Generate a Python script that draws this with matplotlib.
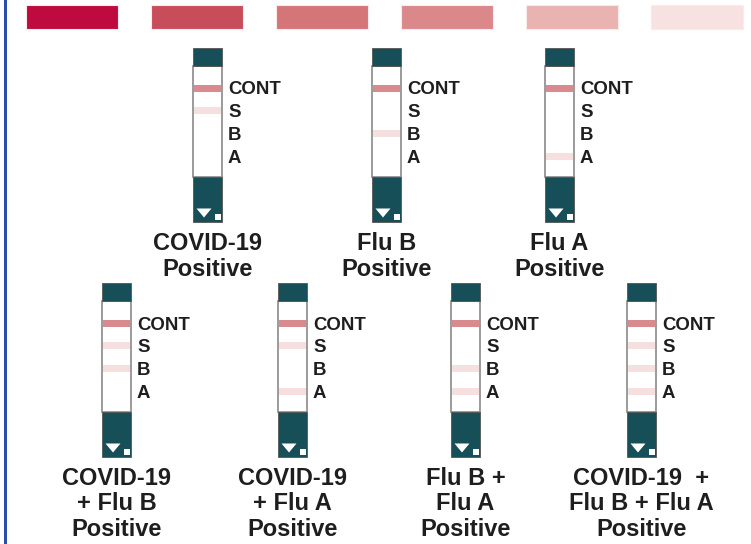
import matplotlib
matplotlib.use("Agg")
import matplotlib.pyplot as plt
from matplotlib.patches import Rectangle, Polygon

# ---- data ----
swatch_colors = ["#be0a3f", "#c84d5a", "#d47577", "#da888a", "#e8b3b1", "#f7e2e1"]
band_labels = ["CONT", "S", "B", "A"]
titles = [
    ["COVID-19", "Positive"],
    ["Flu B", "Positive"],
    ["Flu A", "Positive"],
    ["COVID-19", "+ Flu B", "Positive"],
    ["COVID-19", "+ Flu A", "Positive"],
    ["Flu B +", "Flu A", "Positive"],
    ["COVID-19  +", "Flu B + Flu A", "Positive"],
]
# which bands show a line (CONT, S, B, A)
bands_present = [
    [1, 1, 0, 0],
    [1, 0, 1, 0],
    [1, 0, 0, 1],
    [1, 1, 1, 0],
    [1, 1, 0, 1],
    [1, 0, 1, 1],
    [1, 1, 1, 1],
]

# ---- layout ----
W, H = 751, 544
strip_left = [193, 372, 545, 102, 278, 451, 627]
row_of = [0, 0, 0, 1, 1, 1, 1]
row_top = [48, 283]
strip_w = 29
cap_top_h = 18
white_h = 111
cap_bot_h = 45
band_first = 22   # offset of CONT band centre below white top
band_step = 22.7
band_h = 7
title_base = [250, 485]
title_step = 25.5

TEAL = "#174f58"
CONT_COL = "#d98a8c"
LIGHT_COL = "#f6dfdf"
FONT = ["Liberation Sans", "DejaVu Sans"]
TXT = "#1e1e1e"

fig = plt.figure(figsize=(W / 100, H / 100), dpi=100)
ax = fig.add_axes([0, 0, 1, 1])
ax.set_xlim(0, W)
ax.set_ylim(H, 0)
ax.axis("off")

# left blue rule
ax.add_patch(Rectangle((4, 0), 3, H, color="#2a4fa8", lw=0))

# swatches
sw_x0, sw_w, sw_gap = 26, 92, 125
for i, c in enumerate(swatch_colors):
    ax.add_patch(Rectangle((sw_x0 + i * sw_gap, 5), sw_w, 24, facecolor=c,
                           edgecolor="#fbeaea", lw=0.8))

for k in range(len(titles)):
    x0 = strip_left[k]
    r = row_of[k]
    y0 = row_top[r]
    yw = y0 + cap_top_h
    yb = yw + white_h
    # white body with grey border
    ax.add_patch(Rectangle((x0, yw), strip_w, white_h, facecolor="white",
                           edgecolor="#8a8a8a", lw=1.2, zorder=2))
    # caps
    ax.add_patch(Rectangle((x0, y0), strip_w, cap_top_h, facecolor=TEAL,
                           edgecolor="#555555", lw=0.6, zorder=3))
    ax.add_patch(Rectangle((x0, yb), strip_w, cap_bot_h, facecolor=TEAL,
                           edgecolor="#555555", lw=0.6, zorder=3))
    # triangle and square
    ty = yb + cap_bot_h
    ax.add_patch(Polygon([(x0 + 3.5, ty - 13.5), (x0 + 18.5, ty - 13.5), (x0 + 11, ty - 4.5)],
                         closed=True, facecolor="white", lw=0, zorder=4))
    ax.add_patch(Rectangle((x0 + 22, ty - 8.5), 5.5, 6.5, facecolor="white", lw=0, zorder=4))
    # bands + labels
    for j, lab in enumerate(band_labels):
        yc = yw + band_first + j * band_step
        if bands_present[k][j]:
            col = CONT_COL if j == 0 else LIGHT_COL
            ax.add_patch(Rectangle((x0 + 0.6, yc - band_h / 2), strip_w - 1.2, band_h,
                                   facecolor=col, lw=0, zorder=4))
        ax.text(x0 + strip_w + 6, yc + 6.5, lab, fontsize=13.4, fontweight="bold",
                family=FONT, color=TXT, va="baseline", ha="left", zorder=5)
    # title
    xc = x0 + strip_w / 2
    for li, line in enumerate(titles[k]):
        ax.text(xc, title_base[r] + li * title_step, line, fontsize=17,
                fontweight="bold", family=FONT, color=TXT,
                ha="center", va="baseline")

fig.savefig("out.png", dpi=100)
